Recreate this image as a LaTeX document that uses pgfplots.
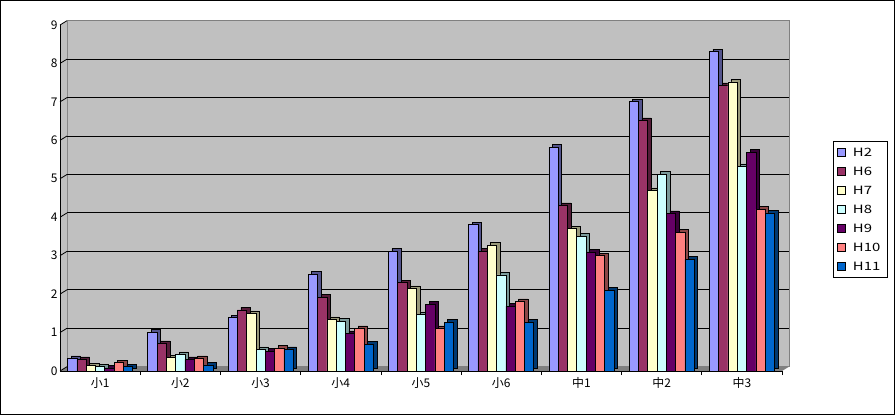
\documentclass[border=0pt]{standalone}
\usepackage{pgfplots}
\pgfplotsset{compat=1.18}
\usepackage{pgfplotstable}
\usepackage{fontspec}
\setmainfont{Noto Sans CJK JP}
\newfontfamily\legfont{Noto Sans CJK JP}[FakeStretch=1.3]
\definecolor{cA}{HTML}{9999FF}
\definecolor{cB}{HTML}{993366}
\definecolor{cC}{HTML}{FFFFCC}
\definecolor{cD}{HTML}{CCFFFF}
\definecolor{cE}{HTML}{660066}
\definecolor{cF}{HTML}{FF8080}
\definecolor{cG}{HTML}{0066CC}
\definecolor{wall}{HTML}{C0C0C0}
\pgfplotstableread{
x H2 H6 H7 H8 H9 H10 H11
0 0.33 0.30 0.14 0.11 0.08 0.22 0.11
1 1.01 0.72 0.35 0.43 0.30 0.33 0.16
2 1.39 1.59 1.50 0.56 0.52 0.60 0.56
3 2.52 1.92 1.34 1.30 0.98 1.11 0.70
4 3.12 2.30 2.15 1.47 1.74 1.11 1.27
5 3.81 3.12 3.27 2.50 1.69 1.81 1.27
6 5.82 4.31 3.70 3.51 3.10 3.00 2.10
7 7.01 6.52 4.70 5.12 4.10 3.61 2.91
8 8.31 7.43 7.52 5.32 5.69 4.21 4.11
}\data
\begin{document}
\begin{tikzpicture}
\useasboundingbox (0,0) rectangle (895bp,415bp);
\draw[line width=1bp] (0.5bp,0.5bp) rectangle (894.5bp,414.5bp);
\begin{axis}[
  at={(60bp,44bp)}, anchor=south west,
  scale only axis, width=722bp, height=346bp,
  xmin=-0.5, xmax=8.5, ymin=0, ymax=9,
  clip=false, axis on top,
  xtick={0,...,8}, xticklabels={小1,小2,小3,小4,小5,小6,中1,中2,中3},
  minor xtick={0.5,1.5,...,8.5},
  ytick={0,...,9},
  every major x tick/.append style={draw=none},
  every minor x tick/.append style={black, line width=0.6bp},
  minor tick length=4bp, tick align=inside,
  y tick style={draw=none},
  axis x line*=bottom, axis y line*=left,
  axis line style={black, line width=0.8bp, -},
  ticklabel style={font=\fontsize{12}{13}\selectfont},
  /pgf/number format/assume math mode=true,
  xticklabel style={yshift=1bp},
  yticklabel style={xshift=1bp},
  ybar=0pt, bar width=9.3bp,
  legend style={at={(1.0706,0.6647)}, anchor=north west, draw=black, line width=0.8bp,
    font=\legfont\fontsize{11.5}{12}\selectfont, inner xsep=4bp, inner ysep=6bp, row sep=9bp,
    nodes={inner sep=0pt, text height=9bp, text depth=1bp},
    /tikz/every odd column/.style={column sep=7bp}},
  legend cell align=left,
  legend image code/.code={\draw[#1, draw=black, line width=0.6bp] (0bp,-4bp) rectangle (8bp,4bp);},
]
\fill[wall, draw=gray, line width=0.8bp] ([shift={(7bp,4.3bp)}]axis cs:-0.5,0) rectangle ([shift={(7bp,4.3bp)}]axis cs:8.5,9);
\fill[wall] (axis cs:-0.5,0) -- (axis cs:-0.5,9) -- ([shift={(7bp,4.3bp)}]axis cs:-0.5,9) -- ([shift={(7bp,4.3bp)}]axis cs:-0.5,0) -- cycle;
\fill[gray] (axis cs:-0.5,0) -- (axis cs:8.5,0) -- ([shift={(7bp,4.3bp)}]axis cs:8.5,0) -- ([shift={(7bp,4.3bp)}]axis cs:-0.5,0) -- cycle;
\pgfplotsinvokeforeach{1,...,8}{\draw[black, line width=0.9bp] ([shift={(7bp,4.3bp)}]axis cs:-0.5,#1) -- ([shift={(7bp,4.3bp)}]axis cs:8.5,#1);}
\pgfplotsinvokeforeach{0,...,9}{\draw[black, line width=0.8bp] (axis cs:-0.5,#1) -- ++(7bp,4.3bp);}
\addplot[fill=cA!55!black, draw=black, line width=0.6bp, bar shift=-27.9bp, xshift=3.5bp, yshift=2.5bp, forget plot] table[x=x,y=H2] {\data};
\addplot[fill=cA, draw=black, line width=0.6bp, bar shift=-27.9bp] table[x=x,y=H2] {\data};
\addplot[fill=cB!55!black, draw=black, line width=0.6bp, bar shift=-18.6bp, xshift=3.5bp, yshift=2.5bp, forget plot] table[x=x,y=H6] {\data};
\addplot[fill=cB, draw=black, line width=0.6bp, bar shift=-18.6bp] table[x=x,y=H6] {\data};
\addplot[fill=cC!60!black, draw=black, line width=0.6bp, bar shift=-9.3bp, xshift=3.5bp, yshift=2.5bp, forget plot] table[x=x,y=H7] {\data};
\addplot[fill=cC, draw=black, line width=0.6bp, bar shift=-9.3bp] table[x=x,y=H7] {\data};
\addplot[fill=cD!60!black, draw=black, line width=0.6bp, bar shift=0bp, xshift=3.5bp, yshift=2.5bp, forget plot] table[x=x,y=H8] {\data};
\addplot[fill=cD, draw=black, line width=0.6bp, bar shift=0bp] table[x=x,y=H8] {\data};
\addplot[fill=cE!55!black, draw=black, line width=0.6bp, bar shift=9.3bp, xshift=3.5bp, yshift=2.5bp, forget plot] table[x=x,y=H9] {\data};
\addplot[fill=cE, draw=black, line width=0.6bp, bar shift=9.3bp] table[x=x,y=H9] {\data};
\addplot[fill=cF!55!black, draw=black, line width=0.6bp, bar shift=18.6bp, xshift=3.5bp, yshift=2.5bp, forget plot] table[x=x,y=H10] {\data};
\addplot[fill=cF, draw=black, line width=0.6bp, bar shift=18.6bp] table[x=x,y=H10] {\data};
\addplot[fill=cG!55!black, draw=black, line width=0.6bp, bar shift=27.9bp, xshift=3.5bp, yshift=2.5bp, forget plot] table[x=x,y=H11] {\data};
\addplot[fill=cG, draw=black, line width=0.6bp, bar shift=27.9bp] table[x=x,y=H11] {\data};
\legend{\makebox[30bp][l]{H2},\makebox[30bp][l]{H6},\makebox[30bp][l]{H7},\makebox[30bp][l]{H8},\makebox[30bp][l]{H9},\makebox[30bp][l]{H10},\makebox[30bp][l]{H11}}
\end{axis}
\end{tikzpicture}
\end{document}
